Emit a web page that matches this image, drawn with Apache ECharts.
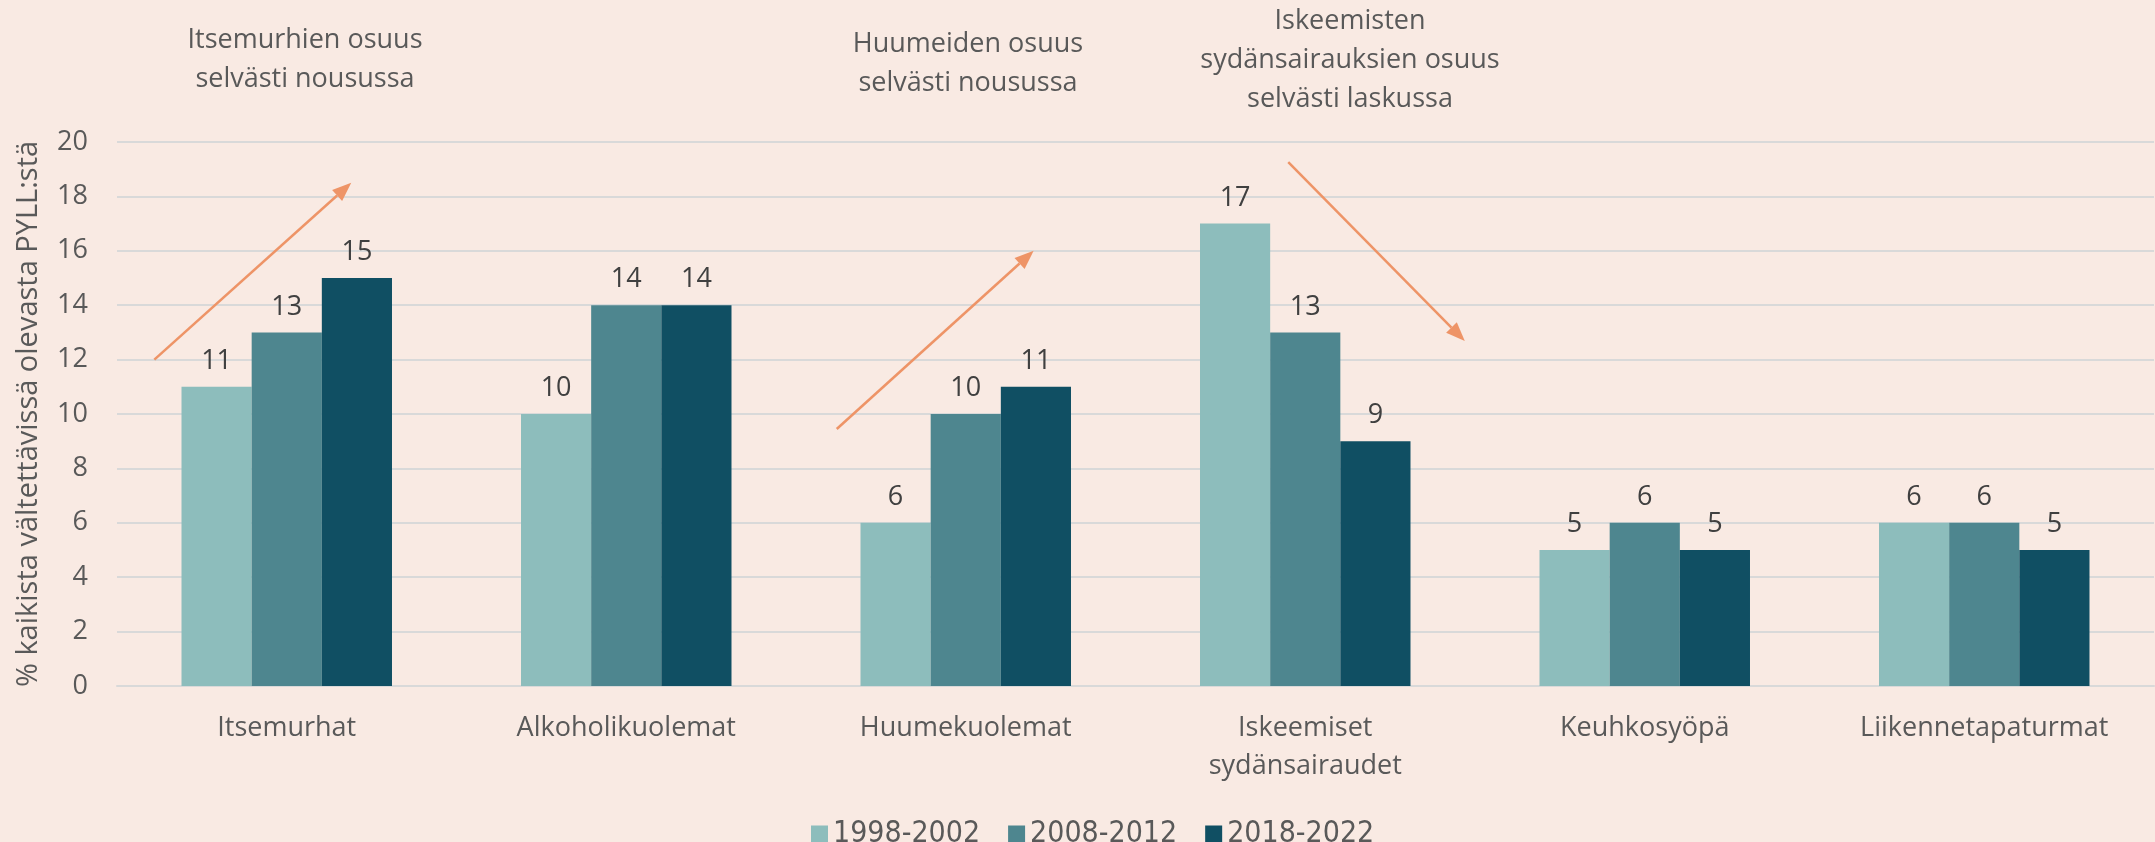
<!DOCTYPE html>
<html>
<head>
<meta charset="utf-8">
<script src="https://cdn.jsdelivr.net/npm/echarts@6/dist/echarts.min.js"></script>
<style>
  html, body { margin: 0; padding: 0; background: #f9eae3; }
  #chart { width: 2155px; height: 842px; }
</style>
</head>
<body>
<div id="chart"></div>
<script>
// data
var categories = ['Itsemurhat', 'Alkoholikuolemat', 'Huumekuolemat', 'Iskeemiset\nsydänsairaudet', 'Keuhkosyöpä', 'Liikennetapaturmat']
var periods = ['1998-2002', '2008-2012', '2018-2022']
var values1998 = [11, 10, 6, 17, 5, 6]
var values2008 = [13, 14, 10, 13, 6, 6]
var values2018 = [15, 14, 11, 9, 5, 5]
var yTicks = { min: 0, max: 20, interval: 2 }

// annotation arrows, in axis units (category index, value)
var arrows = [
  { from: [-0.39, 12.0], to: [0.19, 18.5] },
  { from: [1.62, 9.45], to: [2.20, 16.0] },
  { from: [2.95, 19.26], to: [3.47, 12.68] }
]
// annotation texts, centre of the text block in pixels
var notes = [
  { x: 305, y: 60, text: 'Itsemurhien osuus\nselvästi nousussa' },
  { x: 968, y: 64, text: 'Huumeiden osuus\nselvästi nousussa' },
  { x: 1350, y: 60, text: 'Iskeemisten\nsydänsairauksien osuus\nselvästi laskussa' }
]

var colors = ['#8dbdbc', '#4e868f', '#104f63']
var font = '"Open Sans", "Noto Sans", sans-serif'

var chart = echarts.init(document.getElementById('chart'))

function barSeries(name, data, color) {
  return {
    name: name,
    type: 'bar',
    data: data,
    barGap: '0%',
    barCategoryGap: '38%',
    itemStyle: { color: color },
    label: {
      show: true,
      position: 'top',
      distance: 12,
      color: '#404040',
      fontSize: 27,
      fontFamily: font
    }
  }
}

chart.setOption({
  backgroundColor: '#f9eae3',
  animation: false,
  textStyle: { fontFamily: font },
  grid: { left: 117, right: 1, top: 142, bottom: 156 },
  legend: {
    data: periods,
    top: 814,
    left: 806,
    itemWidth: 17,
    itemHeight: 17,
    itemGap: 28,
    icon: 'rect',
    textStyle: {
      color: '#595959',
      fontSize: 30,
      fontFamily: '"Liberation Sans Narrow", "DejaVu Sans Condensed", sans-serif'
    }
  },
  xAxis: {
    type: 'category',
    data: categories,
    axisLine: { show: true, lineStyle: { color: '#d9d9d9', width: 2 } },
    axisTick: { show: false },
    axisLabel: {
      color: '#595959',
      fontSize: 27,
      lineHeight: 38,
      margin: 23,
      fontFamily: font
    }
  },
  yAxis: {
    type: 'value',
    min: yTicks.min,
    max: yTicks.max,
    interval: yTicks.interval,
    name: '% kaikista vältettävissä olevasta PYLL:stä',
    nameLocation: 'middle',
    nameGap: 74,
    nameTextStyle: { color: '#595959', fontSize: 29, fontFamily: font },
    axisLine: { show: false },
    axisTick: { show: false },
    axisLabel: { color: '#595959', fontSize: 27, margin: 29, fontFamily: font },
    splitLine: { lineStyle: { color: '#d9d9d9', width: 2 } }
  },
  series: [
    barSeries(periods[0], values1998, colors[0]),
    barSeries(periods[1], values2008, colors[1]),
    barSeries(periods[2], values2018, colors[2])
  ]
})

// convert category-index / value pairs to pixels
function toPx(p) {
  var c0 = chart.convertToPixel({ xAxisIndex: 0 }, 0)
  var c1 = chart.convertToPixel({ xAxisIndex: 0 }, 1)
  var x = c0 + (c1 - c0) * p[0]
  var y = chart.convertToPixel({ yAxisIndex: 0 }, p[1])
  return [x, y]
}

var graphics = []
arrows.forEach(function (a) {
  var s = toPx(a.from)
  var e = toPx(a.to)
  var ang = Math.atan2(e[1] - s[1], e[0] - s[0])
  var len = 19, half = 7.5
  var bx = e[0] - len * Math.cos(ang)
  var by = e[1] - len * Math.sin(ang)
  graphics.push({
    type: 'line',
    shape: { x1: s[0], y1: s[1], x2: bx, y2: by },
    style: { stroke: '#ee9467', lineWidth: 2.5 }
  })
  graphics.push({
    type: 'polygon',
    shape: {
      points: [
        e,
        [bx + half * Math.sin(ang), by - half * Math.cos(ang)],
        [bx - half * Math.sin(ang), by + half * Math.cos(ang)]
      ]
    },
    style: { fill: '#ee9467' }
  })
})
notes.forEach(function (n) {
  graphics.push({
    type: 'text',
    x: n.x,
    y: n.y,
    style: {
      text: n.text,
      fill: '#595959',
      font: '27px ' + font,
      lineHeight: 39,
      align: 'center',
      verticalAlign: 'middle'
    }
  })
})
chart.setOption({ graphic: graphics })
</script>
</body>
</html>
